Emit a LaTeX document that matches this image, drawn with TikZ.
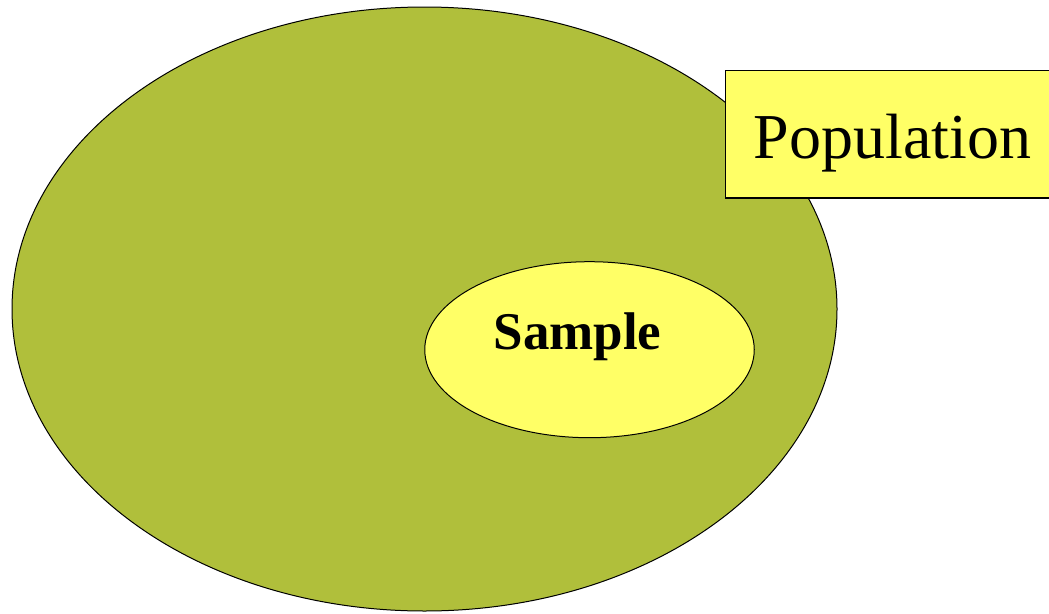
\documentclass[tikz,border=0pt]{standalone}
\usepackage{fontspec}
\setmainfont{Liberation Serif}
\usetikzlibrary{shapes.geometric}
\definecolor{popgreen}{RGB}{176,191,59}
\definecolor{lightyellow}{RGB}{255,255,102}
\tikzset{
  popellipse/.style={draw=black, line width=1pt, fill=popgreen},
  sampleellipse/.style={draw=black, line width=1pt, fill=lightyellow},
  labelbox/.style={draw=black, line width=1.6pt, fill=lightyellow},
}
\begin{document}
\begin{tikzpicture}[x=1pt,y=-1pt]
\useasboundingbox (0,0) rectangle (1049,613);
\clip (0,0) rectangle (1049,613);
\node[popellipse, ellipse, minimum width=825, minimum height=604, inner sep=0] (pop) at (424.5,309) {};
\node[sampleellipse, ellipse, minimum width=329.5, minimum height=176, inner sep=0] (samp) at (589.5,349.7) {};
\node[anchor=base, inner sep=0, font=\bfseries\fontsize{53}{60}\selectfont] (samptext) at (577.5,349) {Sample};
\node[labelbox, rectangle, anchor=north west, minimum width=345, minimum height=127.5, inner sep=0] (popbox) at (724.5,69.5) {};
\node[anchor=base, inner sep=0, font=\fontsize{64}{70}\selectfont] (poptext) at (892.5,158) {Population};
\end{tikzpicture}
\end{document}
